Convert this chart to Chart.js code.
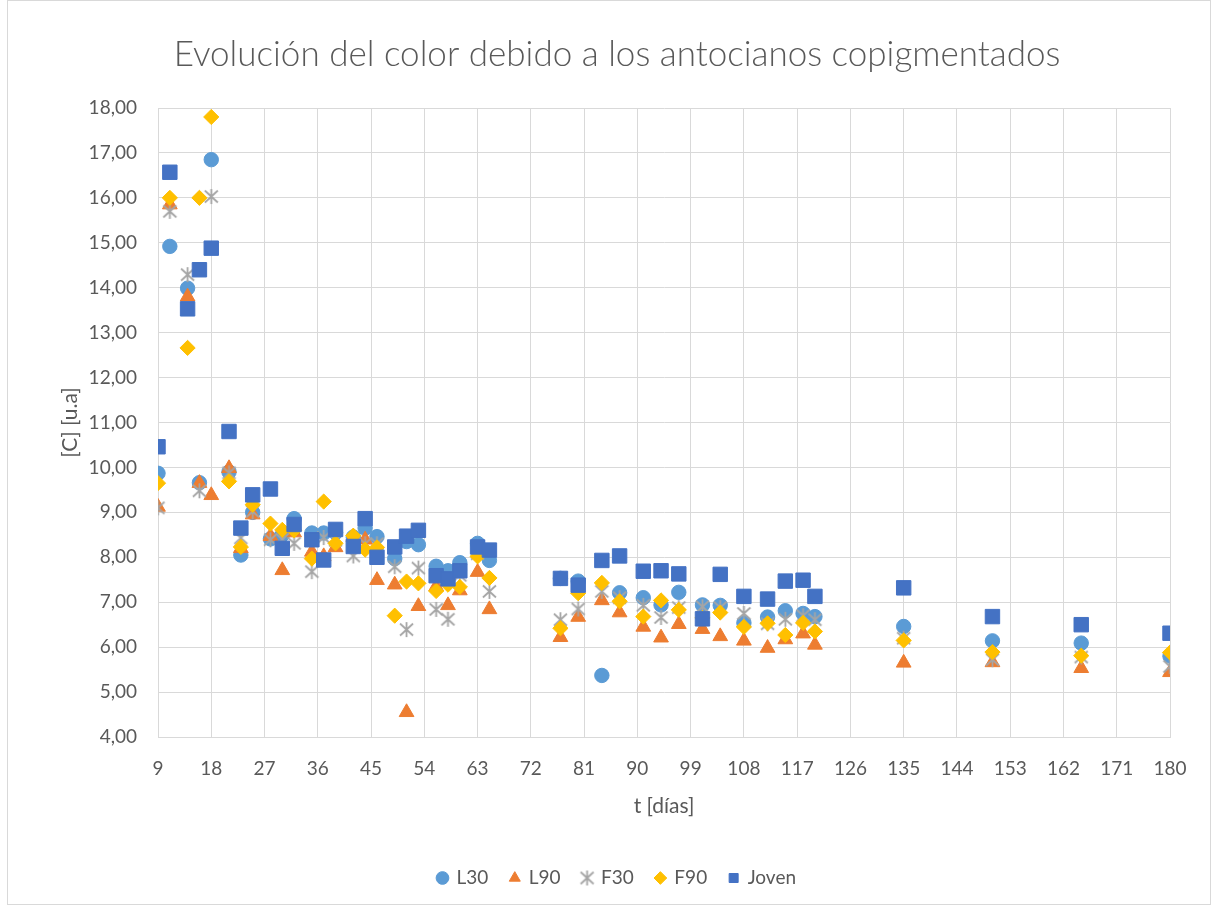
<!DOCTYPE html>
<html lang="es">
<head>
<meta charset="utf-8">
<title>Evolución del color debido a los antocianos copigmentados</title>
<script src="https://cdn.jsdelivr.net/npm/chart.js@4.4.1/dist/chart.umd.min.js"></script>
<style>
    html, body { margin: 0; padding: 0; background: #fff; }
    #wrap { position: relative; width: 1218px; height: 911px; }
</style>
</head>
<body>
<div id="wrap"><canvas id="grafico"></canvas></div>
<script>
// Dias de muestreo (eje X)
const dias = [9, 11, 14, 16, 18, 21, 23, 25, 28, 30, 32, 35, 37, 39, 42, 44, 46, 49, 51, 53, 56, 58, 60, 63, 65,
    77, 80, 84, 87, 91, 94, 97, 101, 104, 108, 112, 115, 118, 120, 135, 150, 165, 180];

// Valores de [C] por serie
const L30 = [9.87, 14.92, 13.99, 9.66, 16.85, 9.90, 8.05, 9.00, 8.41, 8.50, 8.86, 8.54, 8.54, 8.55, 8.45, 8.65, 8.46, 7.97, 8.35, 8.28, 7.80, 7.70, 7.88, 8.31, 7.93,
    7.53, 7.47, 5.37, 7.21, 7.10, 6.94, 7.22, 6.94, 6.93, 6.54, 6.67, 6.81, 6.75, 6.68, 6.46, 6.14, 6.09, 5.80];
const L90 = [9.12, 15.85, 13.80, 9.65, 9.38, 9.98, 8.20, 8.95, 8.47, 7.71, 8.55, 8.12, 8.02, 8.22, 8.45, 8.39, 7.49, 7.39, 4.55, 6.91, 7.35, 6.93, 7.26, 7.67, 6.84,
    6.22, 6.67, 7.04, 6.77, 6.45, 6.21, 6.51, 6.40, 6.24, 6.14, 5.98, 6.17, 6.30, 6.05, 5.65, 5.66, 5.53, 5.44];
const F30 = [9.10, 15.70, 14.29, 9.48, 16.03, 9.88, 8.43, 9.02, 8.39, 8.40, 8.31, 7.68, 8.44, 8.38, 8.03, 8.30, 8.30, 7.79, 6.39, 7.76, 6.84, 6.62, 7.60, 8.08, 7.24,
    6.61, 6.85, 7.24, 7.10, 6.93, 6.66, 6.88, 6.90, 6.88, 6.75, 6.52, 6.62, 6.70, 6.61, 6.20, 5.72, 5.78, 5.57];
const F90 = [9.65, 16.00, 12.66, 16.00, 17.80, 9.69, 8.23, 9.17, 8.75, 8.61, 8.60, 7.97, 9.24, 8.31, 8.48, 8.17, 8.22, 6.70, 7.46, 7.42, 7.25, 7.39, 7.34, 8.02, 7.54,
    6.42, 7.20, 7.43, 7.02, 6.68, 7.04, 6.83, 6.65, 6.77, 6.45, 6.53, 6.27, 6.54, 6.35, 6.15, 5.89, 5.81, 5.88];
const Joven = [10.46, 16.57, 13.53, 14.40, 14.88, 10.80, 8.65, 9.39, 9.52, 8.20, 8.73, 8.39, 7.94, 8.62, 8.24, 8.86, 8.00, 8.23, 8.47, 8.60, 7.59, 7.52, 7.70, 8.23, 8.16,
    7.53, 7.38, 7.93, 8.03, 7.69, 7.70, 7.63, 6.63, 7.62, 7.13, 7.07, 7.47, 7.49, 7.13, 7.32, 6.68, 6.50, 6.31];

const TEXTO = '#595959';
const GRILLA = '#D9D9D9';
const FUENTE = 'Lato, "Open Sans", sans-serif';

// Marcador tipo asterisco de Excel (X + linea vertical)
function marcadorEstrella(color) {
    const c = document.createElement('canvas');
    c.width = 17;
    c.height = 17;
    const g = c.getContext('2d');
    g.strokeStyle = color;
    g.lineWidth = 1.8;
    g.lineCap = 'butt';
    g.beginPath();
    g.moveTo(8.5, 1);
    g.lineTo(8.5, 16);
    g.moveTo(2, 2.5);
    g.lineTo(15, 14.5);
    g.moveTo(15, 2.5);
    g.lineTo(2, 14.5);
    g.stroke();
    return c;
}

const puntos = (vals) => dias.map((d, i) => ({ x: d, y: vals[i] }));

function serie(label, vals, color, estilo, radio, orden) {
    return {
        label: label,
        data: puntos(vals),
        backgroundColor: color,
        borderColor: color,
        borderWidth: 1,
        pointStyle: estilo,
        pointRadius: radio,
        order: orden,
    };
}

// Marco exterior gris del grafico (como el area de grafico de Excel)
const marco = {
    id: 'marco',
    beforeDraw(chart) {
        const ctx = chart.ctx;
        ctx.save();
        ctx.fillStyle = '#fff';
        ctx.fillRect(0, 0, chart.width, chart.height);
        ctx.strokeStyle = GRILLA;
        ctx.lineWidth = 1;
        ctx.strokeRect(7.5, 0.5, 1203, 904);
        ctx.restore();
    },
};

new Chart(document.getElementById('grafico'), {
    type: 'scatter',
    data: {
        datasets: [
            serie('L30', L30, '#5B9BD5', 'circle', 7.2, 5),
            serie('L90', L90, '#ED7D31', 'triangle', 8.5, 4),
            serie('F30', F30, '#A5A5A5', marcadorEstrella('#A5A5A5'), 8, 3),
            serie('F90', F90, '#FFC000', 'rectRot', 7.6, 2),
            serie('Joven', Joven, '#4472C4', 'rect', 10.2, 1),
        ],
    },
    options: {
        responsive: true,
        maintainAspectRatio: false,
        animation: false,
        events: [],
        // padding izquierdo mayor para centrar la leyenda como en Excel
        layout: { padding: { left: 64, right: 48, top: 0, bottom: 13.5 } },
        plugins: {
            title: {
                display: true,
                text: 'Evolución del color debido a los antocianos copigmentados',
                color: TEXTO,
                font: { family: FUENTE, size: 35, weight: '300' },
                padding: { top: 34, bottom: 32 },
            },
            legend: {
                display: true,
                position: 'bottom',
                labels: {
                    usePointStyle: true,
                    boxWidth: 9,
                    boxHeight: 9,
                    padding: 22,
                    color: TEXTO,
                    font: { family: FUENTE, size: 19 },
                    sort: (a, b) => a.datasetIndex - b.datasetIndex,
                },
            },
            tooltip: { enabled: false },
        },
        scales: {
            x: {
                type: 'linear',
                min: 9,
                max: 180,
                afterFit: (scale) => { scale.height = 109.5; },
                ticks: {
                    stepSize: 9,
                    padding: 20.6,
                    color: TEXTO,
                    font: { family: FUENTE, size: 19 },
                },
                grid: { color: GRILLA, lineWidth: 1, drawTicks: false },
                border: { color: GRILLA },
                title: {
                    display: true,
                    text: 't [días]',
                    color: TEXTO,
                    font: { family: FUENTE, size: 21 },
                    padding: { top: 0, bottom: 28 },
                },
            },
            y: {
                type: 'linear',
                min: 4,
                max: 18,
                afterFit: (scale) => { scale.width = 94; },
                ticks: {
                    stepSize: 1,
                    padding: 21,
                    color: TEXTO,
                    font: { family: FUENTE, size: 19 },
                    callback: (v) => v.toFixed(2).replace('.', ','),
                },
                grid: { color: GRILLA, lineWidth: 1, drawTicks: false },
                border: { color: GRILLA },
                title: {
                    display: true,
                    text: '[C] [u.a]',
                    color: TEXTO,
                    font: { family: FUENTE, size: 21 },
                    padding: { top: -6, bottom: 0 },
                },
            },
        },
    },
    plugins: [marco],
});
</script>
</body>
</html>
